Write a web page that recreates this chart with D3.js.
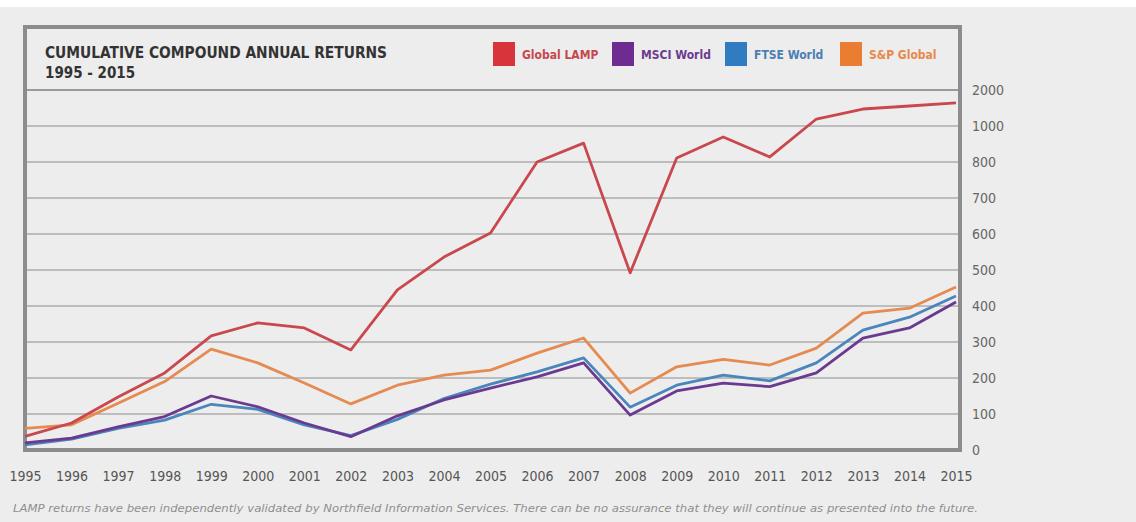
<!DOCTYPE html>
<html>
<head>
<meta charset="utf-8">
<script src="https://cdn.jsdelivr.net/npm/d3@7"></script>
<style>
  body { margin: 0; background: #ededed; }
  svg { display: block; }
</style>
</head>
<body>
<script>
const years = d3.range(1995, 2016);
const yTicks = [0, 100, 200, 300, 400, 500, 600, 700, 800, 1000, 2000];

const globalLamp = [38, 75, 147, 214, 317, 353, 339, 278, 445, 536, 603, 800, 905, 492, 822, 939, 828, 1194, 1472, 1555, 1640];
const msciWorld  = [20, 33, 64, 93, 150, 120, 75, 37, 95, 139, 172, 203, 242, 97, 164, 186, 176, 214, 311, 339, 411];
const ftseWorld  = [14, 30, 60, 83, 127, 113, 70, 40, 85, 143, 183, 217, 256, 119, 180, 208, 192, 242, 333, 369, 428];
const spGlobal   = [60, 70, 130, 190, 280, 242, 186, 128, 180, 208, 222, 269, 311, 158, 231, 252, 236, 283, 380, 394, 453];

const series = [
  { name: "Global LAMP", values: globalLamp, line: "#c9484d", box: "#d8343c", text: "#c8474d" },
  { name: "MSCI World",  values: msciWorld,  line: "#6a3a90", box: "#6e2b90", text: "#6c3a8e" },
  { name: "FTSE World",  values: ftseWorld,  line: "#4a86bc", box: "#2f7dc0", text: "#4a7fb3" },
  { name: "S&P Global",  values: spGlobal,   line: "#e58a50", box: "#ea7d32", text: "#e8894a" }
];
const drawOrder = [3, 2, 1, 0];

const width = 1136, height = 522;
const svg = d3.select("body").append("svg")
    .attr("width", width)
    .attr("height", height);

svg.append("rect").attr("width", width).attr("height", height).attr("fill", "#ededed");
svg.append("rect").attr("width", width).attr("height", 7).attr("fill", "#ffffff");

const frameL = 25, frameR = 960, frameT = 27, frameB = 450;
const step = (frameB - 90) / (yTicks.length - 1);

const x = d3.scaleLinear().domain([1995, 2015]).range([25, 956]);
// uneven ticks are spaced evenly on the axis
const y = d3.scaleLinear()
    .domain(yTicks)
    .range(yTicks.map((d, i) => frameB - i * step));

// grid
svg.append("g")
  .selectAll("line")
  .data(yTicks.slice(1, -1))
  .join("line")
    .attr("x1", frameL + 2).attr("x2", frameR - 2)
    .attr("y1", d => y(d)).attr("y2", d => y(d))
    .attr("stroke", "#bdbdbd")
    .attr("stroke-width", 2);

// header separator
svg.append("line")
    .attr("x1", frameL).attr("x2", frameR)
    .attr("y1", y(2000)).attr("y2", y(2000))
    .attr("stroke", "#9a9a9a")
    .attr("stroke-width", 2);

// frame
svg.append("rect")
    .attr("x", frameL).attr("y", frameT)
    .attr("width", frameR - frameL).attr("height", frameB - frameT)
    .attr("fill", "none")
    .attr("stroke", "#8c8c8c")
    .attr("stroke-width", 4);

// lines
const line = d3.line()
    .x((d, i) => x(years[i]))
    .y(d => y(d));

svg.append("g")
  .selectAll("path")
  .data(drawOrder.map(i => series[i]))
  .join("path")
    .attr("fill", "none")
    .attr("stroke", d => d.line)
    .attr("stroke-width", 2.8)
    .attr("stroke-linejoin", "round")
    .attr("d", d => line(d.values));

// y axis on the right
const yAxis = svg.append("g")
    .attr("transform", `translate(${frameR + 12},0)`)
    .call(d3.axisRight(y).tickValues(yTicks).tickSize(0).tickPadding(0).tickFormat(d3.format("d")));
yAxis.select(".domain").remove();
yAxis.selectAll("text")
    .attr("fill", "#666")
    .style("font-family", "'DejaVu Sans Condensed', 'DejaVu Sans', sans-serif")
    .style("font-size", "14px");

// x axis
const xAxis = svg.append("g")
    .attr("transform", `translate(0,${frameB + 21})`)
    .call(d3.axisBottom(x).tickValues(years).tickSize(0).tickPadding(0).tickFormat(d3.format("d")));
xAxis.select(".domain").remove();
xAxis.selectAll("text")
    .attr("fill", "#555")
    .style("font-family", "'DejaVu Sans Condensed', 'DejaVu Sans', sans-serif")
    .style("font-size", "14px");

// title
const titleFont = "'DejaVu Sans Condensed', 'DejaVu Sans', sans-serif";
svg.append("text")
    .attr("x", 45).attr("y", 58)
    .attr("fill", "#333")
    .style("font-family", titleFont)
    .style("font-weight", "bold")
    .style("font-size", "15px")
    .attr("textLength", 342)
    .attr("lengthAdjust", "spacingAndGlyphs")
    .text("CUMULATIVE COMPOUND ANNUAL RETURNS");
svg.append("text")
    .attr("x", 45).attr("y", 78)
    .attr("fill", "#333")
    .style("font-family", titleFont)
    .style("font-weight", "bold")
    .style("font-size", "15px")
    .text("1995 - 2015");

// legend
const legendX = [493, 612, 725, 840];
const legend = svg.append("g")
  .selectAll("g")
  .data(series)
  .join("g")
    .attr("transform", (d, i) => `translate(${legendX[i]},42)`);
legend.append("rect")
    .attr("width", 22).attr("height", 24)
    .attr("fill", d => d.box);
legend.append("text")
    .attr("x", 29).attr("y", 17)
    .attr("fill", d => d.text)
    .style("font-family", titleFont)
    .style("font-weight", "bold")
    .style("font-size", "12px")
    .text(d => d.name);

// footnote
svg.append("text")
    .attr("x", 13).attr("y", 512)
    .attr("fill", "#8f8f8f")
    .style("font-family", "'DejaVu Sans', sans-serif")
    .style("font-style", "italic")
    .style("font-size", "10.5px")
    .attr("textLength", 965)
    .attr("lengthAdjust", "spacingAndGlyphs")
    .text("LAMP returns have been independently validated by Northfield Information Services. There can be no assurance that they will continue as presented into the future.");
</script>
</body>
</html>
